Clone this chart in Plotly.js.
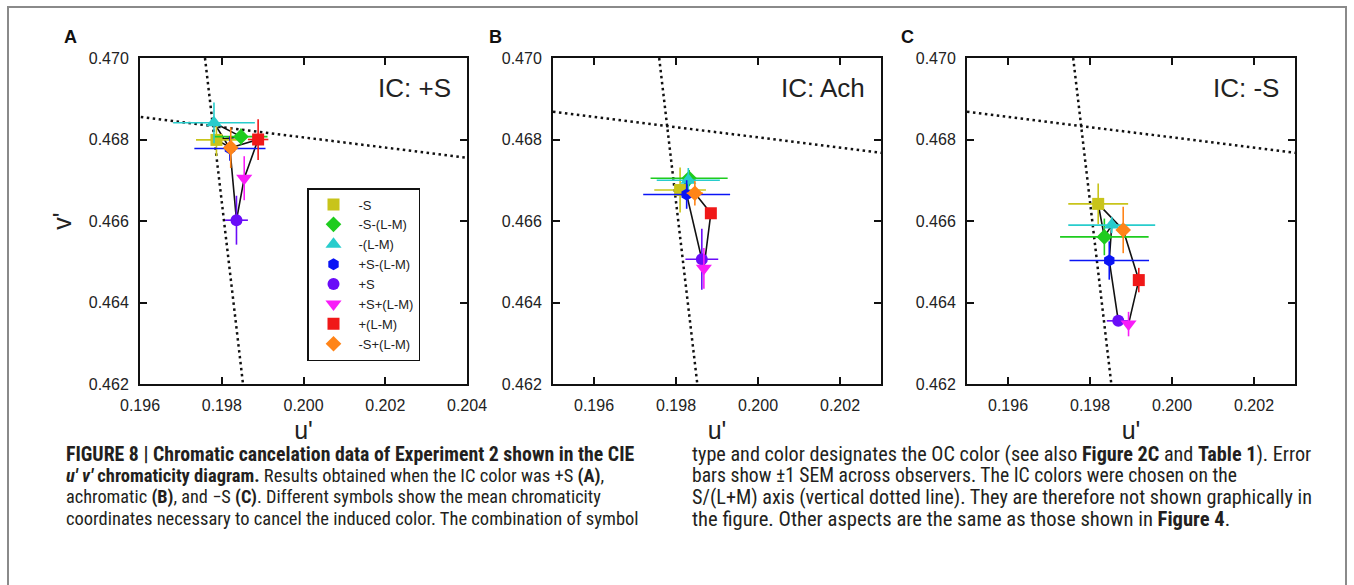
<!DOCTYPE html>
<html>
<head>
<meta charset="utf-8">
<script src="https://cdn.plot.ly/plotly-3.0.1.min.js"></script>
<style>html,body{margin:0;padding:0;background:#fff;}#chart{width:1354px;height:585px;}</style>
</head>
<body>
<div id="chart"></div>
<script>
// ---- data ----
const conditions = ['-S', '-S-(L-M)', '-(L-M)', '+S-(L-M)', '+S', '+S+(L-M)', '+(L-M)', '-S+(L-M)'];
const symbols = ['square', 'diamond', 'triangle-up', 'hexagon', 'circle', 'triangle-down', 'square', 'diamond'];
const colors = ['#c8c41a', '#1ecc1e', '#28cccc', '#0a14f5', '#6a0cf8', '#f81cf8', '#f01818', '#ff8418'];

const panelNames = ['A', 'B', 'C'];
const panelTitles = ['IC: +S', 'IC: Ach', 'IC: -S'];

// Panel A (IC: +S)
const uA = [0.19787, 0.19847, 0.19781, 0.19820, 0.19836, 0.19855, 0.19889, 0.19822];
const vA = [0.46799, 0.46807, 0.46841, 0.46778, 0.46602, 0.46705, 0.46800, 0.46780];
const uErrA = [0.00050, 0.00065, 0.00100, 0.00087, 0.00028, 0.00010, 0.00025, 0.00010];
const vErrA = [0.00040, 0.00020, 0.00050, 0.00030, 0.00060, 0.00054, 0.00050, 0.00050];

// Panel B (IC: Ach)
const uB = [0.19810, 0.19832, 0.19830, 0.19826, 0.19863, 0.19868, 0.19885, 0.19846];
const vB = [0.46676, 0.46705, 0.46700, 0.46665, 0.46506, 0.46484, 0.46619, 0.46668];
const uErrB = [0.00063, 0.00094, 0.00077, 0.00106, 0.00040, 0.00010, 0.00010, 0.00020];
const vErrB = [0.00055, 0.00020, 0.00030, 0.00035, 0.00075, 0.00050, 0.00010, 0.00030];

// Panel C (IC: -S)
const uC = [0.19820, 0.19835, 0.19853, 0.19847, 0.19869, 0.19894, 0.19919, 0.19881];
const vC = [0.46642, 0.46561, 0.46590, 0.46503, 0.46355, 0.46347, 0.46455, 0.46578];
const uErrC = [0.00073, 0.00108, 0.00106, 0.00097, 0.00028, 0.00010, 0.00010, 0.00010];
const vErrC = [0.00050, 0.00045, 0.00020, 0.00047, 0.00010, 0.00030, 0.00030, 0.00057];

// Reference axes (dotted): S/(L+M) axis (vertical) and L/(L+M) axis (near-horizontal)
const sAxisU = [0.19759, 0.19852];
const sAxisV = [0.47000, 0.46200];
const lmAxisU = [0.19500, 0.20400];
const lmAxisV = [0.46868, 0.46755];

// axis ranges and ticks
const uRanges = [[0.196, 0.204], [0.195, 0.203], [0.195, 0.203]];
const vRange = [0.462, 0.470];
const uTicks = [[0.196, 0.198, 0.200, 0.202, 0.204], [0.196, 0.198, 0.200, 0.202], [0.196, 0.198, 0.200, 0.202]];
const vTicks = [0.462, 0.464, 0.466, 0.468, 0.470];

// caption lines
const captionLeft = [
  '<b>FIGURE 8 | Chromatic cancelation data of Experiment 2 shown in the CIE</b>',
  '<b><i>u′ v′</i> chromaticity diagram.</b> Results obtained when the IC color was +S <b>(A)</b>,',
  'achromatic <b>(B)</b>, and −S <b>(C)</b>. Different symbols show the mean chromaticity',
  'coordinates necessary to cancel the induced color. The combination of symbol'
];
const captionRight = [
  'type and color designates the OC color (see also <b>Figure 2C</b> and <b>Table 1</b>). Error',
  'bars show ±1 SEM across observers. The IC colors were chosen on the',
  'S/(L+M) axis (vertical dotted line). They are therefore not shown graphically in',
  'the figure. Other aspects are the same as those shown in <b>Figure 4</b>.'
];

const panels = [
  {u: uA, v: vA, eu: uErrA, ev: vErrA},
  {u: uB, v: vB, eu: uErrB, ev: vErrB},
  {u: uC, v: vC, eu: uErrC, ev: vErrC}
];

// ---- build ----
const W = 1354, H = 585;
const domX = [[140, 467], [553, 881], [967, 1295]];
const domY = [1 - 384 / H, 1 - 58 / H];
const font = 'Liberation Sans, Arial, Helvetica, sans-serif';

const traces = [];
const layout = {
  width: W, height: H,
  margin: {l: 0, r: 0, t: 0, b: 0},
  paper_bgcolor: '#ffffff',
  plot_bgcolor: '#ffffff',
  font: {family: font, color: '#222', size: 16},
  showlegend: true,
  legend: {
    x: 307 / W, y: 1 - 188 / H, xanchor: 'left', yanchor: 'top',
    bgcolor: '#ffffff', bordercolor: '#111', borderwidth: 1.5,
    font: {family: font, size: 13, color: '#222'},
    itemwidth: 40, tracegroupgap: 0, entrywidth: 100, entrywidthmode: 'pixels'
  },
  annotations: [],
  shapes: [
    {type: 'rect', xref: 'paper', yref: 'paper', x0: 8 / W, x1: 1346 / W, y0: -0.05, y1: 1 - 7 / H,
     line: {color: '#8a8a8a', width: 2}, fillcolor: 'rgba(0,0,0,0)', layer: 'below'}
  ]
};

panels.forEach((p, k) => {
  const sfx = k === 0 ? '' : String(k + 1);
  const xa = 'x' + sfx, ya = 'y' + sfx;
  traces.push({x: sAxisU, y: sAxisV, xaxis: xa, yaxis: ya, mode: 'lines', showlegend: false, hoverinfo: 'skip',
    line: {color: '#111', width: 2.5, dash: '2.5px,3.5px'}});
  traces.push({x: lmAxisU, y: lmAxisV, xaxis: xa, yaxis: ya, mode: 'lines', showlegend: false, hoverinfo: 'skip',
    line: {color: '#111', width: 2.5, dash: '2.5px,3.5px'}});
  traces.push({x: p.u.concat([p.u[0]]), y: p.v.concat([p.v[0]]), xaxis: xa, yaxis: ya, mode: 'lines',
    showlegend: false, hoverinfo: 'skip', line: {color: '#111', width: 1.6}});
  conditions.forEach((c, i) => {
    traces.push({
      x: [p.u[i]], y: [p.v[i]], xaxis: xa, yaxis: ya, mode: 'markers', name: c,
      legendgroup: c, showlegend: k === 0,
      marker: {symbol: symbols[i], color: colors[i], size: (symbols[i].indexOf('triangle') === 0 ? 14 : 12), line: {width: 0}},
      error_x: {type: 'data', array: [p.eu[i]], color: colors[i], thickness: 1.6, width: 0},
      error_y: {type: 'data', array: [p.ev[i]], color: colors[i], thickness: 1.6, width: 0}
    });
  });

  layout['xaxis' + sfx] = {
    domain: [domX[k][0] / W, domX[k][1] / W], anchor: ya, range: uRanges[k],
    tickvals: uTicks[k], ticktext: uTicks[k].map(t => t.toFixed(3)),
    ticks: 'inside', ticklen: 7, tickwidth: 2, tickcolor: '#111',
    showline: true, linecolor: '#111', linewidth: 2, mirror: 'ticks',
    showgrid: false, zeroline: false, ticklabelstandoff: 6,
    tickfont: {size: 16, color: '#222', family: font},
    title: {text: "u'", font: {size: 25, color: '#222', family: font}, standoff: 8}
  };
  layout['yaxis' + sfx] = {
    domain: domY, anchor: xa, range: vRange,
    tickvals: vTicks, ticktext: vTicks.map(t => t.toFixed(3)),
    ticks: 'inside', ticklen: 7, tickwidth: 2, tickcolor: '#111',
    showline: true, linecolor: '#111', linewidth: 2, mirror: 'ticks',
    showgrid: false, zeroline: false, ticklabelstandoff: 6,
    tickfont: {size: 16, color: '#222', family: font},
    title: k === 0 ? {text: "v'", font: {size: 25, color: '#222', family: font}, standoff: 10} : {text: ''}
  };

  layout.annotations.push({
    text: panelTitles[k], xref: xa + ' domain', yref: ya + ' domain', x: 1, y: 1 - 30 / 326,
    xanchor: 'right', yanchor: 'middle', xshift: -14, showarrow: false,
    font: {size: 26, color: '#222', family: font}
  });
  layout.annotations.push({
    text: '<b>' + panelNames[k] + '</b>', xref: 'paper', yref: 'paper',
    x: [70, 495, 907][k] / W, y: 1 - 37 / H, xanchor: 'center', yanchor: 'middle', showarrow: false,
    font: {size: 18, color: '#111', family: font}
  });
});

// caption (one annotation per line for exact line spacing)
const capFamily = 'Roboto Condensed, Liberation Sans Narrow, Arial Narrow, sans-serif';
const capY = [454, 475.5, 497, 518.5];
const capSizeLeft = [19.8, 18.5, 18.3, 18.5];
const capSizeRight = [20.2, 19.6, 20.2, 20.6];
captionLeft.forEach((t, i) => layout.annotations.push({text: t, xref: 'paper', yref: 'paper', x: 64 / W, y: 1 - capY[i] / H,
  xanchor: 'left', yanchor: 'middle', align: 'left', showarrow: false,
  font: {family: capFamily, size: capSizeLeft[i], color: '#231f20'}}));
captionRight.forEach((t, i) => layout.annotations.push({text: t, xref: 'paper', yref: 'paper', x: 690 / W, y: 1 - capY[i] / H,
  xanchor: 'left', yanchor: 'middle', align: 'left', showarrow: false,
  font: {family: capFamily, size: capSizeRight[i], color: '#231f20'}}));

Plotly.newPlot('chart', traces, layout, {staticPlot: true, displayModeBar: false});
</script>
</body>
</html>
